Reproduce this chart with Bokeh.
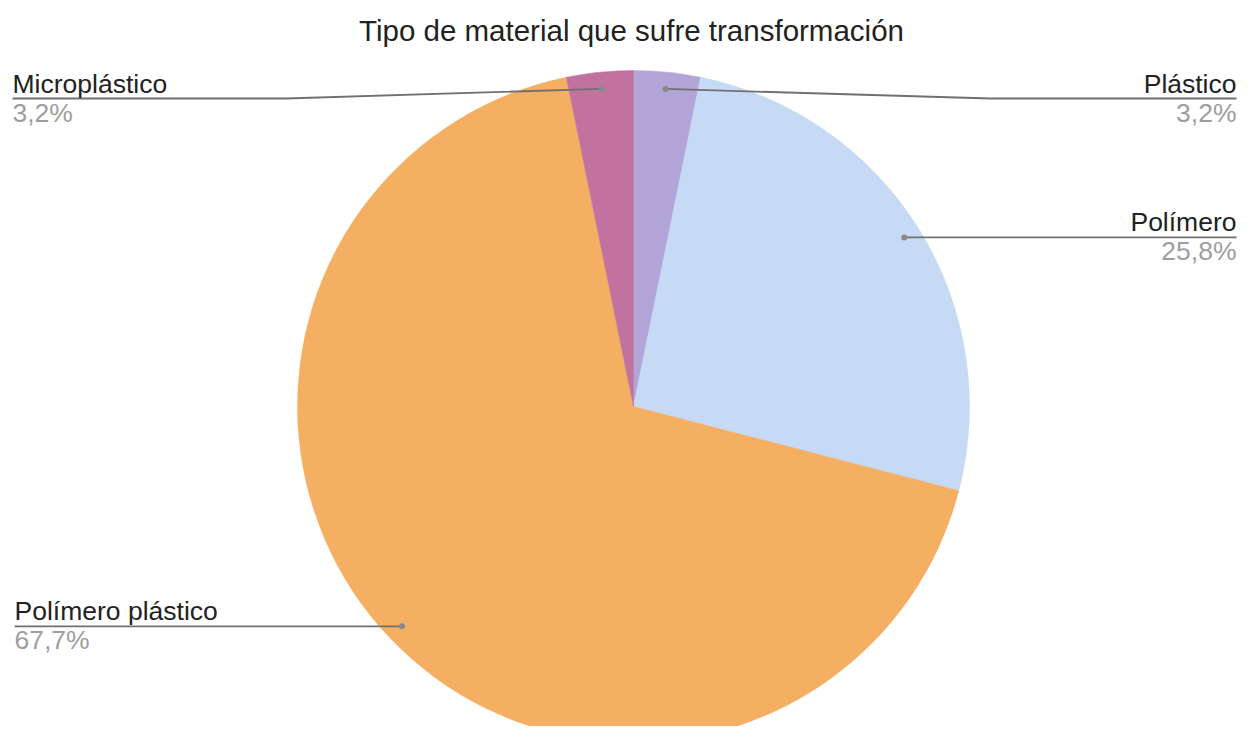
import math
from bokeh.plotting import figure
from bokeh.models import Range1d, ColumnDataSource
from bokeh.core.properties import value
from bokeh.embed import file_html
from bokeh.resources import INLINE

# ---- data ----
categories = ["Plástico", "Polímero", "Polímero plástico", "Microplástico"]
percentages = [3.2, 25.8, 67.7, 3.2]
percent_labels = ["3,2%", "25,8%", "67,7%", "3,2%"]
colors = ["#B4A5D9", "#C6D9F5", "#F4AF63", "#C1729F"]
title_text = "Tipo de material que sufre transformación"

# ---- layout (screen-like coordinates measured from the top-left of the picture) ----
W, H = 1241, 726
FONT = "Liberation Sans"


def Y(y_img):
    return H - y_img


cx, cy_img, R = 633, 406, 336
cy = Y(cy_img)

p = figure(width=W, height=H, x_range=Range1d(0, W), y_range=Range1d(0, H),
           x_axis_type=None, y_axis_type=None, toolbar_location=None,
           output_backend="svg", min_border=0, outline_line_color=None,
           background_fill_color="white", border_fill_color="white")
p.grid.visible = False

total = sum(percentages)
starts, ends, mids = [], [], []
cum = 0.0
for v in percentages:
    a0 = math.pi / 2 - 2 * math.pi * cum / total
    cum += v
    a1 = math.pi / 2 - 2 * math.pi * cum / total
    starts.append(a0)
    ends.append(a1)
    mids.append((a0 + a1) / 2)

src = ColumnDataSource(dict(start=starts, end=ends, color=colors, cat=categories))
p.wedge(x=cx, y=cy, radius=R, start_angle="start", end_angle="end", direction="clock",
        fill_color="color", line_color="color", line_width=0.5, source=src)

# leader lines and labels
r_dot = 0.95 * R
line_col = "#707070"
# label placement (layout): side, elbow x, end x, label line y (None -> dot y)
placement = {
    "Plástico": ("right", 990, 1236, 98),
    "Polímero": ("right", None, 1236, None),
    "Polímero plástico": ("left", None, 14, None),
    "Microplástico": ("left", 285, 12, 98),
}
for cat, m, pl in zip(categories, mids, percent_labels):
    dx = cx + r_dot * math.cos(m)
    dy = cy + r_dot * math.sin(m)
    side, elbow, xend, ly_img = placement[cat]
    ly = dy if ly_img is None else Y(ly_img)
    if elbow is None:
        xs, ys = [dx, xend], [ly, ly]
    else:
        xs, ys = [dx, elbow, xend], [dy, ly, ly]
    p.line(xs, ys, line_color=line_col, line_width=1.8)
    p.scatter([dx], [dy], size=6, fill_color="#8a8a8a", line_color=None)
    align = "right" if side == "right" else "left"
    p.text([xend], [ly + 15], text=[cat], text_align=align, text_baseline="alphabetic",
           text_font=value(FONT), text_font_size="26.5px", text_color="#222222")
    p.text([xend], [ly + 1], text=[pl], text_align=align, text_baseline="top",
           text_font=value(FONT), text_font_size="26.5px", text_color="#9e9e9e")

p.text([631], [Y(30)], text=[title_text], text_align="center", text_baseline="alphabetic",
       text_font=value(FONT), text_font_size="29.5px", text_color="#222222")

open("out.html", "w").write(file_html(p, INLINE))
